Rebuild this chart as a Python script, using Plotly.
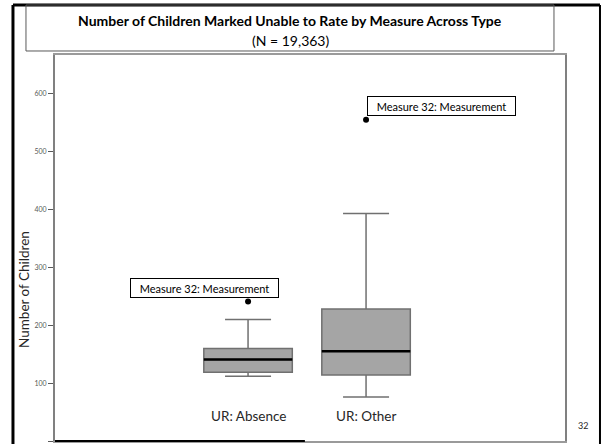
import plotly.graph_objects as go

categories = ["UR: Absence", "UR: Other"]
q1 = [119, 114]
median = [141, 155]
q3 = [160, 228]
lower_fence = [112, 76]
upper_fence = [210, 393]
outliers = [241, 555]
outlier_label = "Measure 32: Measurement"
y_ticks = [0, 100, 200, 300, 400, 500, 600]

FONT = "Lato"
BOX_W = 0.75

fig = go.Figure()
fig.add_trace(go.Box(
    x=categories, q1=q1, median=median, q3=q3,
    lowerfence=lower_fence, upperfence=upper_fence,
    width=BOX_W, whiskerwidth=0.52,
    fillcolor="#a5a5a5", line=dict(color="#707070", width=1.5),
    boxpoints=False, showlegend=False,
))
fig.add_trace(go.Scatter(
    x=categories, y=outliers, mode="markers",
    marker=dict(color="black", size=6), showlegend=False,
))

shapes = []
# median lines
for i, m in enumerate(median):
    shapes.append(dict(type="line", xref="x", yref="y",
                       x0=i - BOX_W / 2, x1=i + BOX_W / 2, y0=m, y1=m,
                       line=dict(color="black", width=2.5)))
# slide frame
shapes.append(dict(type="line", xref="paper", yref="paper", x0=-0.0824, x1=-0.0824,
                   y0=-0.05, y1=1.1295, line=dict(color="black", width=3)))
shapes.append(dict(type="line", xref="paper", yref="paper", x0=-0.0824, x1=1.0686,
                   y0=1.1295, y1=1.1295, line=dict(color="black", width=3)))
shapes.append(dict(type="line", xref="paper", yref="paper", x0=1.0686, x1=1.0686,
                   y0=-0.05, y1=1.1295, line=dict(color="black", width=2)))
# title box
shapes.append(dict(type="rect", xref="paper", yref="paper", x0=-0.0569, x1=0.9784,
                   y0=1.0104, y1=1.1295, line=dict(color="#595959", width=1)))
# bottom black partial line
shapes.append(dict(type="line", xref="paper", yref="paper", x0=0, x1=0.49,
                   y0=0.0, y1=0.0, line=dict(color="black", width=2)))

annotations = [
    dict(text="<b>Number of Children Marked Unable to Rate by Measure Across Type</b>",
         xref="paper", yref="paper", x=0.4608, y=(441 - 21) / 386, showarrow=False,
         font=dict(family=FONT, size=14, color="black"), xanchor="center", yanchor="middle"),
    dict(text="(N = 19,363)", xref="paper", yref="paper", x=0.4608, y=(441 - 40) / 386,
         showarrow=False, font=dict(family=FONT, size=14, color="black"),
         xanchor="center", yanchor="middle"),
    dict(text="Number of Children", xref="paper", yref="paper", x=(24 - 55) / 510,
         y=(441 - 290) / 386, textangle=-90, showarrow=False,
         xanchor="center", yanchor="middle",
         font=dict(family=FONT, size=13.5, color="#262626")),
    dict(text="32", xref="paper", yref="paper", x=(583 - 55) / 510, y=(441 - 425) / 386,
         showarrow=False, xanchor="center", yanchor="middle",
         font=dict(family=FONT, size=9, color="#262626")),
]
for c in categories:
    annotations.append(dict(text=c, x=c, y=0, xref="x", yref="y", showarrow=False,
                            yanchor="middle", yshift=25,
                            font=dict(family=FONT, size=13.5, color="#262626")))
# outlier labels
annotations.append(dict(text=outlier_label, x=categories[0], y=outliers[0], xref="x", yref="y",
                        showarrow=False, xanchor="right", yanchor="bottom", xshift=31, yshift=4,
                        width=143, height=14, borderpad=2, bordercolor="black", borderwidth=1,
                        bgcolor="white", font=dict(family=FONT, size=11, color="black")))
annotations.append(dict(text=outlier_label, x=categories[1], y=outliers[1], xref="x", yref="y",
                        showarrow=False, xanchor="left", yanchor="bottom", xshift=1, yshift=4,
                        width=143, height=14, borderpad=2, bordercolor="black", borderwidth=1,
                        bgcolor="white", font=dict(family=FONT, size=11, color="black")))

fig.update_layout(
    width=602, height=444,
    margin=dict(l=55, r=37, t=55, b=3),
    paper_bgcolor="white", plot_bgcolor="white",
    shapes=shapes, annotations=annotations,
    font=dict(family=FONT),
    xaxis=dict(type="category", range=[-1.636, 2.686], showticklabels=False,
               showgrid=False, zeroline=False, showline=True, mirror=True,
               linecolor="#9a9a9a", linewidth=2, ticks=""),
    yaxis=dict(range=[0, 667], tickvals=y_ticks, showgrid=False, zeroline=False,
               showline=True, mirror=True, linecolor="#808080", linewidth=2,
               ticks="outside", ticklen=5, tickcolor="#595959", tickwidth=1,
               tickfont=dict(family=FONT, size=7, color="#595959")),
)

fig.write_html("out.html", config={"displayModeBar": False},
               post_script="document.body.style.margin='0';document.body.style.overflow='hidden';")
